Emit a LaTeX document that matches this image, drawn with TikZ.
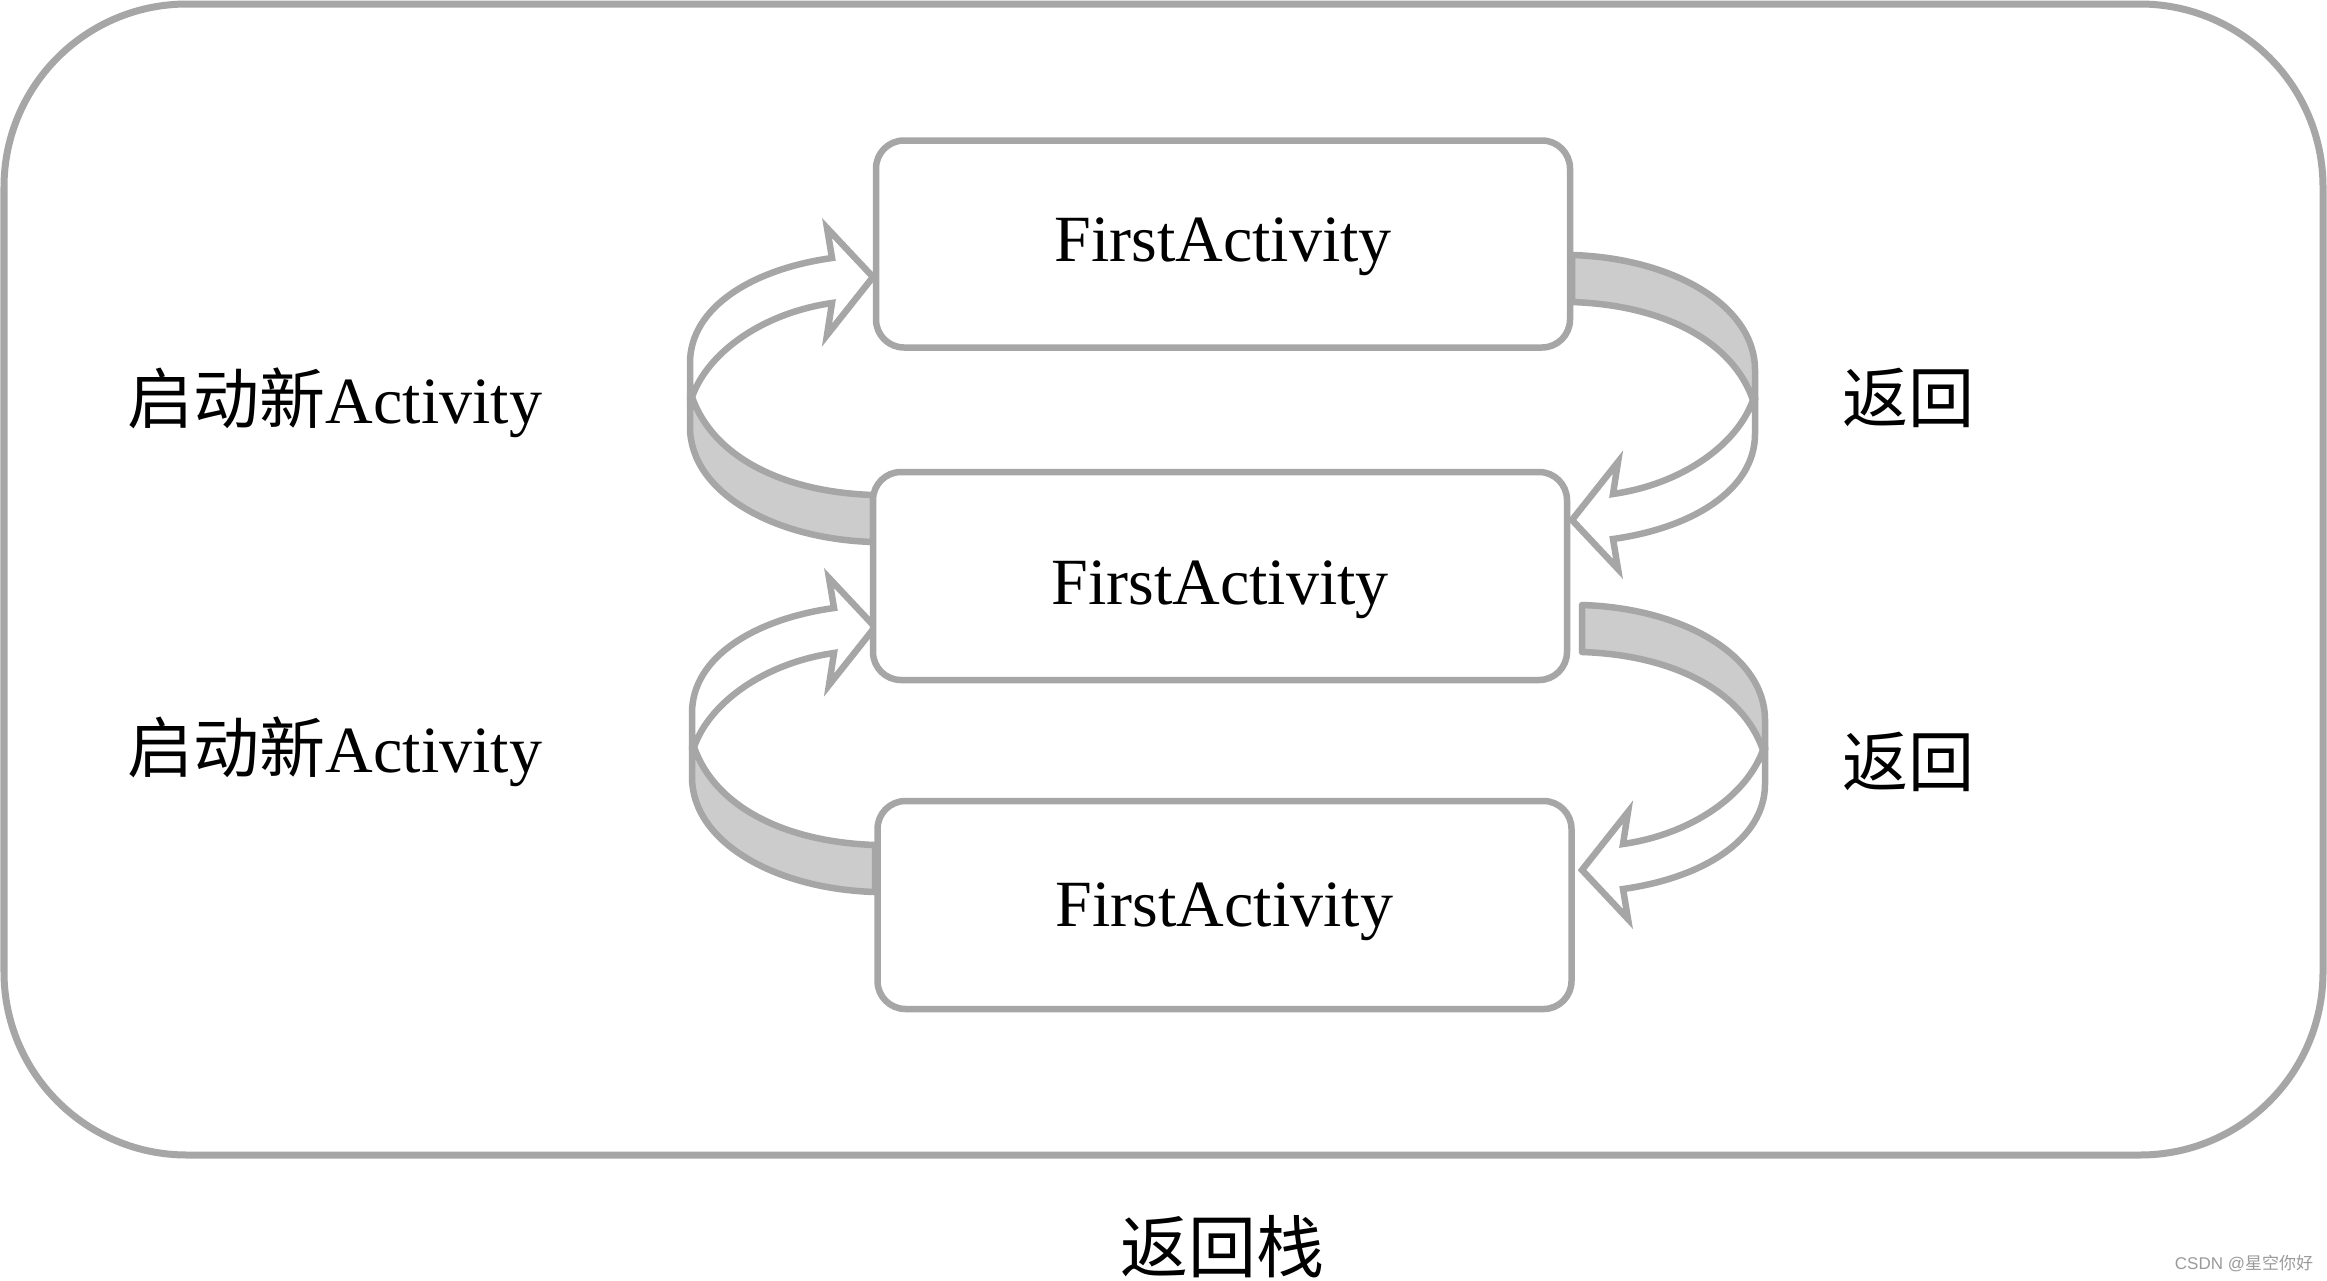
\documentclass[tikz,border=0pt]{standalone}
\usepackage{fontspec}
\setmainfont{Liberation Serif}
\newfontfamily\cjk{Noto Sans CJK SC}
\newfontfamily\wmfont{Liberation Sans}
\definecolor{edgegray}{HTML}{A6A6A6}
\definecolor{ribgray}{HTML}{CCCCCC}
\definecolor{wmgray}{HTML}{9A9A9A}
\tikzset{
  ribbon/.style={draw=edgegray, fill=ribgray, line width=6.5pt, line join=round},
  face/.style={draw=edgegray, fill=white, line width=6.5pt, line join=miter},
  actbox/.style={draw=edgegray, fill=white, line width=6.5pt, rounded corners=28pt,
    minimum width=694pt, minimum height=207pt, inner sep=0pt,
    font=\fontsize{66}{70}\selectfont},
  lbl/.style={inner sep=0pt, font=\fontsize{66}{70}\selectfont},
  loopA/.pic={
    \draw[ribbon] (-181,120) .. controls (-160,180) and (-90,215) .. (0,218)
      -- (0,265) .. controls (-100,262) and (-183,215) .. (-183,150)
      -- (-183,120) -- cycle;
    \draw[face] (-183,120) -- (-183,86) .. controls (-183,30) and (-120,-8) .. (-41,-19)
      -- (-46,-49) -- (0,0) -- (-46,58) -- (-41,26)
      .. controls (-110,36) and (-165,75) .. (-181,120) -- cycle;
  }
}
\begin{document}
\begin{tikzpicture}[x=1pt, y=-1pt]
\useasboundingbox (0,0) rectangle (2327,1280);
\fill[white] (0,0) rectangle (2327,1280);
% outer frame
\draw[edgegray, line width=7pt, rounded corners=183pt] (4,4) rectangle (2323,1155);
% curved arrows
\coordinate (tl1) at (873,277);
\coordinate (tl2) at (875,627);
\coordinate (tr1) at (1572,520);
\coordinate (tr2) at (1582,870);
\pic at (tl1) {loopA};
\pic at (tl2) {loopA};
\pic[rotate=180] at (tr1) {loopA};
\pic[rotate=180] at (tr2) {loopA};
% boxes
\node[actbox, text height=45pt, text depth=10pt] (b1) at (1223,244) {FirstActivity};
\node[actbox, minimum height=208pt, text height=70pt, text depth=13pt] (b2) at (1220,576) {FirstActivity};
\node[actbox, minimum height=208pt, text height=45pt, text depth=1.5pt] (b3) at (1224.5,905) {FirstActivity};
% labels
\node[lbl] (l1) at (335,403) {{\cjk 启动新}Activity};
\node[lbl] (l2) at (335,752) {{\cjk 启动新}Activity};
\node[lbl] (r1) at (1908,398) {\cjk 返回};
\node[lbl] (r2) at (1908,762) {\cjk 返回};
\node[lbl, font=\fontsize{68}{72}\selectfont] (cap) at (1222,1247) {\cjk 返回栈};
\node[inner sep=0pt, text=wmgray, font=\fontsize{17}{20}\selectfont] (wm) at (2244,1263) {\wmfont CSDN @{\cjk 星空你好}};
\end{tikzpicture}
\end{document}
